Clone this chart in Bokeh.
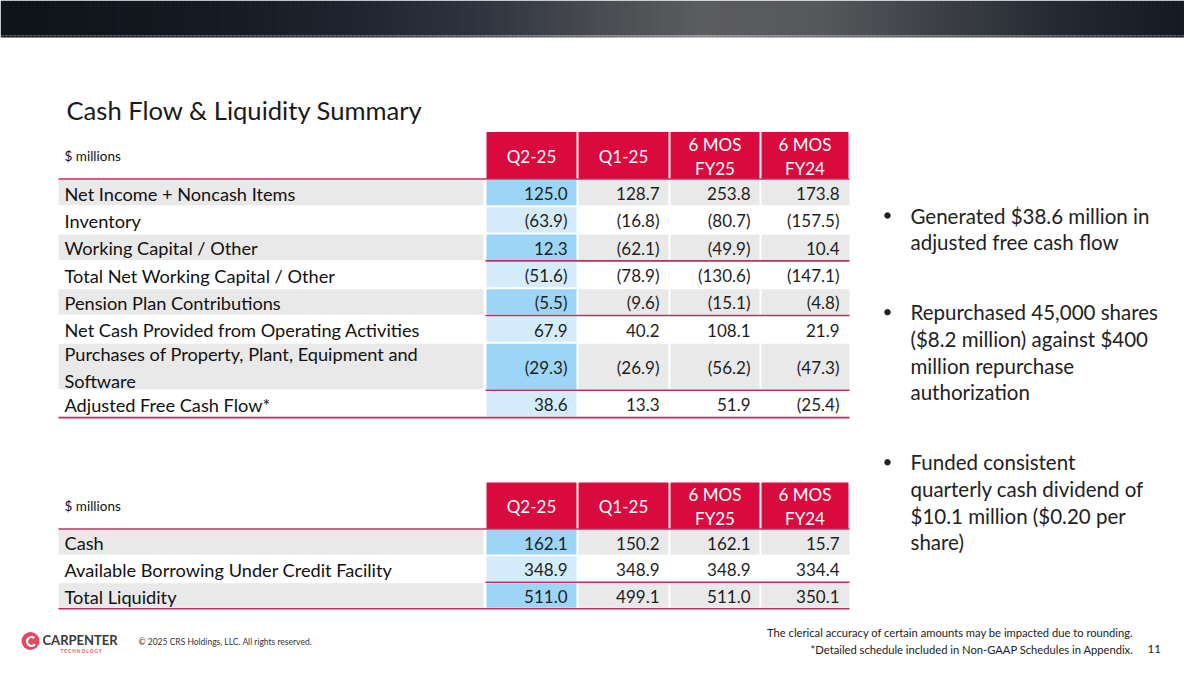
from bokeh.plotting import figure
from bokeh.models import Range1d
from bokeh.embed import file_html
from bokeh.resources import INLINE
from bokeh.core.properties import value

# ---------------- data ----------------
title = "Cash Flow & Liquidity Summary"
unit_label = "$ millions"
col_headers = ["Q2-25", "Q1-25", "6 MOS\nFY25", "6 MOS\nFY24"]

cf_labels = [
    "Net Income + Noncash Items",
    "Inventory",
    "Working Capital / Other",
    "Total Net Working Capital / Other",
    "Pension Plan Contributions",
    "Net Cash Provided from Operating Activities",
    "Purchases of Property, Plant, Equipment and\nSoftware",
    "Adjusted Free Cash Flow*",
]
cf_q2_25 = [125.0, -63.9, 12.3, -51.6, -5.5, 67.9, -29.3, 38.6]
cf_q1_25 = [128.7, -16.8, -62.1, -78.9, -9.6, 40.2, -26.9, 13.3]
cf_6mos_fy25 = [253.8, -80.7, -49.9, -130.6, -15.1, 108.1, -56.2, 51.9]
cf_6mos_fy24 = [173.8, -157.5, 10.4, -147.1, -4.8, 21.9, -47.3, -25.4]

liq_labels = ["Cash", "Available Borrowing Under Credit Facility", "Total Liquidity"]
liq_q2_25 = [162.1, 348.9, 511.0]
liq_q1_25 = [150.2, 348.9, 499.1]
liq_6mos_fy25 = [162.1, 348.9, 511.0]
liq_6mos_fy24 = [15.7, 334.4, 350.1]

bullets = [
    "Generated $38.6 million in\nadjusted free cash flow",
    "Repurchased 45,000 shares\n($8.2 million) against $400\nmillion repurchase\nauthorization",
    "Funded consistent\nquarterly cash dividend of\n$10.1 million ($0.20 per\nshare)",
]
copyright_text = "\u00a9 2025 CRS Holdings, LLC. All rights reserved."
note_rounding = "The clerical accuracy of certain amounts may be impacted due to rounding."
note_schedule = "*Detailed schedule included in Non-GAAP Schedules in Appendix."
page_number = "11"
logo_name = "CARPENTER"
logo_sub = "T E C H N O L O G Y"

# ---------------- style ----------------
FONT = value("Lato")
RED = "#d90a3e"
RULE = "#c42a5b"
GREY = "#e9e9e9"
BLUE_D = "#9dd5f6"
BLUE_L = "#d4ecfb"
TXT = "#111111"

p = figure(width=1184, height=659, x_range=Range1d(0, 1184), y_range=Range1d(659, 0),
           output_backend="svg", toolbar_location=None, min_border=0,
           x_axis_location=None, y_axis_location=None)
p.grid.visible = False
p.outline_line_color = None
p.background_fill_color = "white"
p.border_fill_color = "white"


def hex2rgb(h):
    h = h.lstrip("#")
    return tuple(int(h[i:i + 2], 16) for i in (0, 2, 4))


def interp(stops, x):
    for (x0, c0), (x1, c1) in zip(stops, stops[1:]):
        if x0 <= x <= x1:
            t = (x - x0) / (x1 - x0)
            a, b = hex2rgb(c0), hex2rgb(c1)
            return "#%02x%02x%02x" % tuple(int(round(a[k] + (b[k] - a[k]) * t)) for k in range(3))
    return stops[-1][1]


# ---------------- top bar ----------------
bar_stops = [(0, "#0e1419"), (200, "#141a21"), (350, "#1f2530"), (480, "#2f3440"),
             (600, "#4a4c51"), (700, "#5b5c5f"), (820, "#56585b"), (950, "#3a3e44"),
             (1050, "#262b33"), (1200, "#121820")]
line_stops = [(0, "#1a1f24"), (350, "#3a3d44"), (700, "#8a8a8c"), (1000, "#55585c"), (1200, "#1c2126")]
step = 4
xs = list(range(0, 1200, step))
p.quad(left=xs, right=[x + step + 0.5 for x in xs], top=0, bottom=35,
       color=[interp(bar_stops, x + step / 2) for x in xs], line_color=None)
p.quad(left=xs, right=[x + step + 0.5 for x in xs], top=35, bottom=37,
       color=[interp(line_stops, x + step / 2) for x in xs], line_color=None)

# ---------------- title ----------------
p.text(x=[66], y=[109], text=[title], text_font=FONT, text_font_size="25.6px",
       text_color="#1a1a1a", text_baseline="middle", text_align="left")

COLS = [58, 485, 577, 669, 760, 849]


def fmt(v):
    return f"({abs(v):.1f})" if v < 0 else f"{v:.1f}"


def draw_table(h_top, h_bot, bounds, labels, series, partial_rules):
    # header cells
    p.quad(left=[c + 1 for c in COLS[1:-1]], right=[c - 1 for c in COLS[2:]],
           top=h_top, bottom=h_bot, color=RED, line_color=None)
    p.text(x=[(COLS[j + 1] + COLS[j + 2]) / 2 for j in range(4)], y=[(h_top + h_bot) / 2 + 1] * 4,
           text=col_headers, text_font=FONT, text_font_size="17px", text_color="white",
           text_align="center", text_baseline="middle", text_line_height=1.12)
    p.text(x=[64], y=[(h_top + h_bot) / 2], text=[unit_label], text_font=FONT,
           text_font_size="13.5px", text_color=TXT, text_baseline="middle")
    n = len(labels)
    for i in range(n):
        top, bot = bounds[i], bounds[i + 1]
        grey = (i % 2 == 0)
        if grey:
            p.quad(left=[COLS[0], COLS[2] + 1, COLS[3] + 1, COLS[4] + 1],
                   right=[COLS[1] - 2, COLS[3] - 1, COLS[4] - 1, COLS[5]],
                   top=top + 1, bottom=bot - 1, color=GREY, line_color=None)
        p.quad(left=[COLS[1] + 1], right=[COLS[2] - 1], top=top + 1, bottom=bot - 1,
               color=BLUE_D if grey else BLUE_L, line_color=None)
    mids = [(bounds[i] + bounds[i + 1]) / 2 + 1 for i in range(n)]
    p.text(x=[64] * n, y=mids, text=labels, text_font=FONT, text_font_size="18.2px",
           text_color=TXT, text_baseline="middle", text_align="left", text_line_height=1.2)
    for j, s in enumerate(series):
        p.text(x=[COLS[j + 2] - 10] * n, y=mids, text=[fmt(v) for v in s], text_font=FONT,
               text_font_size="17px", text_color="#1e1e1e", text_baseline="middle",
               text_align="right")
    # rules
    p.segment(x0=[COLS[0], COLS[0]], x1=[COLS[5], COLS[5]], y0=[h_bot, bounds[-1]],
              y1=[h_bot, bounds[-1]], line_color=RULE, line_width=1.6)
    ys = [bounds[k + 1] for k in partial_rules]
    p.segment(x0=[COLS[1]] * len(ys), x1=[COLS[5]] * len(ys), y0=ys, y1=ys,
              line_color=RULE, line_width=1.6)


# table 1 geometry
h = 27.3
b1 = [178.5]
for lab in cf_labels:
    b1.append(b1[-1] + (47.5 if "\n" in lab else h))
draw_table(131.5, 178.5, b1, cf_labels, [cf_q2_25, cf_q1_25, cf_6mos_fy25, cf_6mos_fy24], [2, 4, 6])

# table 2 geometry
b2 = [528.5]
for lab in liq_labels:
    b2.append(b2[-1] + 26.6)
draw_table(482, 528.5, b2, liq_labels, [liq_q2_25, liq_q1_25, liq_6mos_fy25, liq_6mos_fy24], [1])

# ---------------- bullets ----------------
y = 215.0
by, btxt = [], []
dot_y = []
for para in bullets:
    lines = para.split("\n")
    dot_y.append(y)
    for ln in lines:
        btxt.append(ln)
        by.append(y)
        y += 26.7
    y += 43.3
p.text(x=[910] * len(btxt), y=by, text=btxt, text_font=FONT, text_font_size="20.5px",
       text_color="#222222", text_baseline="middle", text_align="left")
p.scatter(x=[887] * len(dot_y), y=dot_y, size=5.5, color="#222222")

# ---------------- footer ----------------
p.circle(x=[30], y=[640.5], radius=9, color="#e9475f", line_color=None)
p.annular_wedge(x=[31], y=[641], inner_radius=3.2, outer_radius=5.6, start_angle=0.9,
                end_angle=5.6, color="white", line_color=None)
p.circle(x=[31], y=[641], radius=1.8, color="#e9475f", line_color=None)
p.text(x=[42], y=[639], text=[logo_name], text_font=FONT, text_font_size="13px",
       text_font_style="bold", text_color="#3a3a3a", text_baseline="middle")
p.text(x=[60], y=[650.5], text=[logo_sub], text_font=FONT, text_font_size="4.6px",
       text_font_style="bold", text_color="#e9475f", text_baseline="middle")
p.text(x=[138], y=[641], text=[copyright_text], text_font=FONT, text_font_size="8.5px",
       text_color="#333333", text_baseline="middle")
p.text(x=[1133, 1133], y=[632, 648.5], text=[note_rounding, note_schedule], text_font=FONT,
       text_font_size="11.2px", text_color="#222222", text_baseline="middle", text_align="right")
p.text(x=[1147], y=[648], text=[page_number], text_font=FONT, text_font_size="11.5px",
       text_color="#222222", text_baseline="middle", text_align="left")

open("out.html", "w").write(file_html(p, INLINE))
